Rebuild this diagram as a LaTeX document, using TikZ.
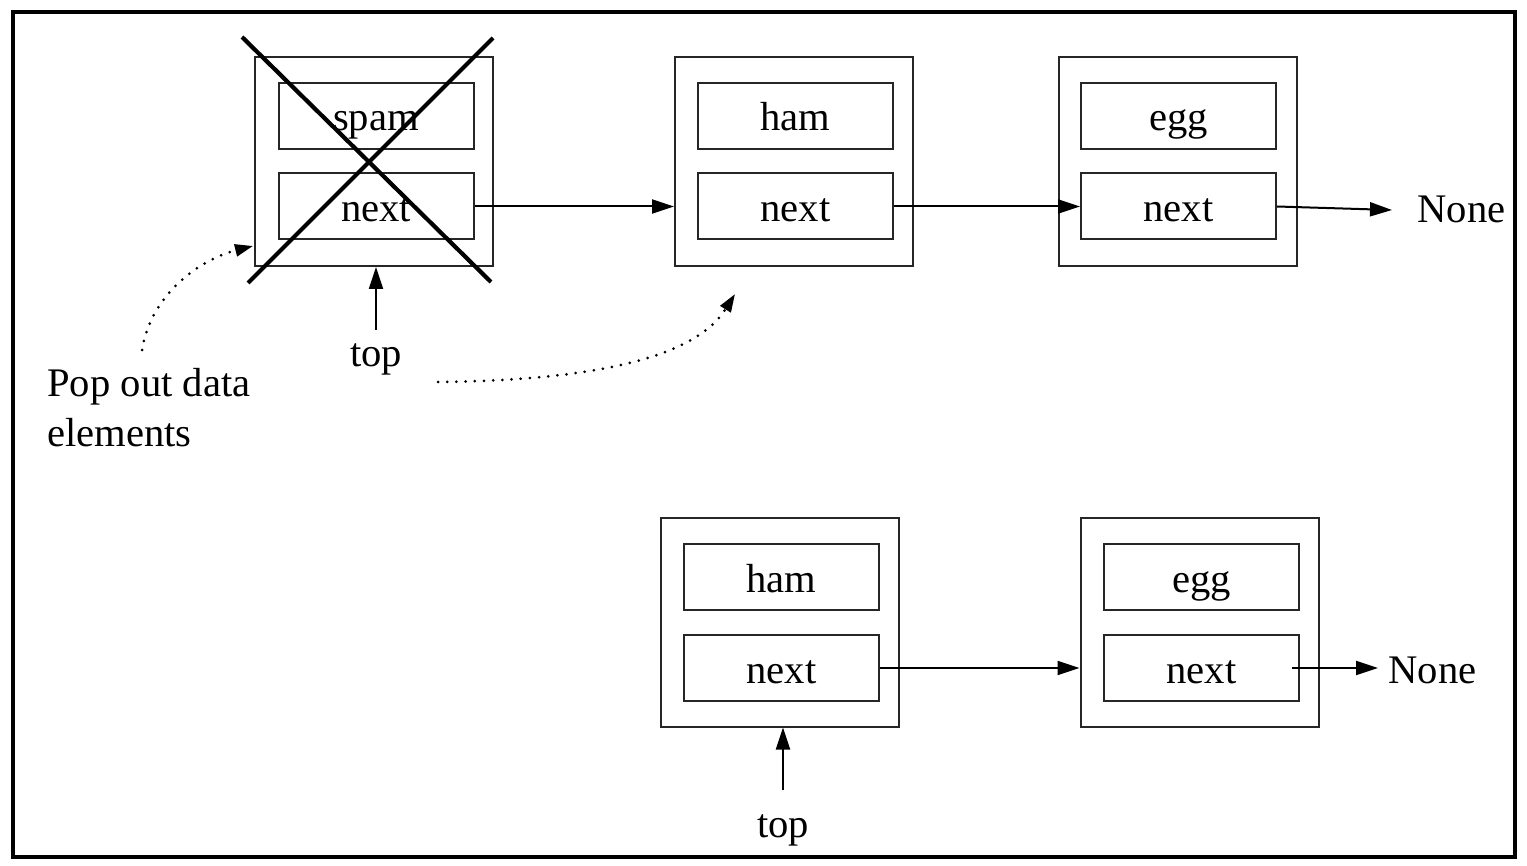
\documentclass[tikz,border=0pt]{standalone}
\usepackage{fontspec}
\setmainfont{Liberation Serif}
\usetikzlibrary{arrows.meta}
\begin{document}
\begin{tikzpicture}[x=0.5pt,y=-0.5pt,
  outerbox/.style={draw=black!85,line width=1pt,minimum width=119pt,minimum height=104.5pt,inner sep=0pt},
  innerbox/.style={draw=black!85,line width=1pt,minimum width=97.5pt,minimum height=33pt,inner sep=0pt,font=\fontsize{20.3}{24}\selectfont,text height=15pt,text depth=0pt},
  lbl/.style={font=\fontsize{20.3}{24}\selectfont,inner sep=0pt,text height=15pt,text depth=0pt},
  arr/.style={line width=1pt,-{Triangle[length=11pt,width=7pt]}},
  dotarr/.style={line width=1.5pt,dash pattern=on 0pt off 4.6pt,line cap=round,-{Triangle[length=9pt,width=6pt]}},
  crossline/.style={line width=2.1pt}]
\useasboundingbox (0,0) rectangle (1527,866);
\node[draw,line width=1.6pt,minimum width=751pt,minimum height=422.5pt,inner sep=0pt] (frame) at (764,434.5) {};
% top row
\node[outerbox] (o1) at (374,161.5) {};
\node[innerbox] (d1) at (376,116) {spam};
\node[innerbox] (n1) at (376,206.5) {next};
\node[outerbox] (o2) at (794,161.5) {};
\node[innerbox] (d2) at (795.5,116) {ham};
\node[innerbox] (n2) at (795.5,206.5) {next};
\node[outerbox] (o3) at (1177.5,161.5) {};
\node[innerbox] (d3) at (1178.5,116) {egg};
\node[innerbox] (n3) at (1178.5,206.5) {next};
\node[lbl,anchor=west] (none1) at (1417,208) {None};
\coordinate (e1) at (1392,210);
\draw[arr] (n1.east) -- (n1.east -| o2.west);
\draw[arr] (n2.east) -- (n3.west);
\draw[arr] (n3.east) -- (e1);
% cross
\coordinate (c1a) at (242,37); \coordinate (c1b) at (491,282);
\coordinate (c2a) at (493,38); \coordinate (c2b) at (248,283);
\draw[crossline] (c1a) -- (c1b);
\draw[crossline] (c2a) -- (c2b);
% top pointer
\node[lbl] (top1) at (376,352) {top};
\coordinate (tp1) at (376,330);
\draw[arr] (tp1) -- (tp1 |- o1.south);
% labels
\node[lbl,anchor=west] (pop1) at (47,381) {Pop out data};
\node[lbl,anchor=west] (pop2) at (47,431) {elements};
\coordinate (s1) at (142,350);
\coordinate (t1) at (253,246);
\draw[dotarr] (s1) .. controls (152,290) and (205,258) .. (t1);
\coordinate (s2) at (438,382);
\coordinate (t2) at (735,294);
\draw[dotarr] (s2) .. controls (620,380) and (700,350) .. (t2);
% bottom row
\node[outerbox] (o4) at (779.5,622) {};
\node[innerbox] (d4) at (781.5,577) {ham};
\node[innerbox] (n4) at (781.5,668) {next};
\node[outerbox] (o5) at (1199.5,622) {};
\node[innerbox] (d5) at (1201.5,577) {egg};
\node[innerbox] (n5) at (1201.5,668) {next};
\node[lbl,anchor=west] (none2) at (1388,668) {None};
\coordinate (b1) at (1292,668);
\coordinate (e2) at (1378,668);
\draw[arr] (n4.east) -- (n4.east -| o5.west);
\draw[arr] (b1) -- (e2);
\node[lbl] (top2) at (783,822) {top};
\coordinate (tp2) at (783,790);
\draw[arr] (tp2) -- (tp2 |- o4.south);
\end{tikzpicture}
\end{document}
